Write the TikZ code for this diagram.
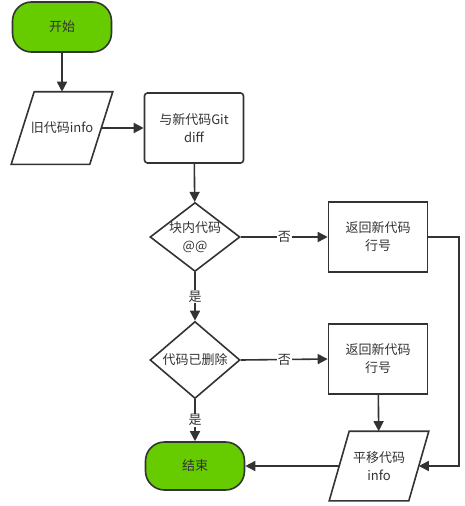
\documentclass[tikz,border=0pt]{standalone}
\usepackage{fontspec}
\setmainfont{Noto Sans CJK SC}
\usetikzlibrary{shapes.geometric,arrows.meta}
\definecolor{ln}{HTML}{333333}
\definecolor{grn}{HTML}{66CC00}
\tikzset{
  base/.style={draw=ln, line width=1.6pt, text=ln, font=\fontsize{13}{18}\selectfont, align=center, inner sep=2pt},
  term/.style={base, fill=grn, rounded corners=19pt, minimum width=99pt, minimum height=50pt},
  proc/.style={base, minimum width=99pt, minimum height=70pt},
  io/.style={base, draw=none, inner sep=0pt},
  ioline/.style={draw=ln, line width=1.6pt, line join=miter},
  dec/.style={base, diamond, minimum width=90pt, minimum height=69pt, inner sep=0pt},
  conn/.style={draw=ln, line width=1.6pt, -{Triangle[length=10pt,width=10pt]}},
  lab/.style={fill=white, text=ln, font=\fontsize{13}{15}\selectfont, inner sep=1pt}
}
\begin{document}
\begin{tikzpicture}[x=1pt,y=-1pt]
\useasboundingbox (0,0) rectangle (464,506);
\node[term] (start) at (62,27) {开始};
\node[io, minimum width=77pt, minimum height=71pt] (p1) at (62,128) {旧代码info};
\draw[ioline] ([xshift=-11.5pt]p1.south west) -- ([xshift=11.5pt]p1.north west) -- ([xshift=11.5pt]p1.north east) -- ([xshift=-11.5pt]p1.south east) -- cycle;
\node[proc, rounded corners=3pt] (b1) at (194,128) {与新代码Git\\diff};
\node[dec, label={[text=ln, font=\fontsize{13}{18}\selectfont, align=center]center:块内代码\\@@}] (d1) at (195,237) {};
\node[proc] (r1) at (378,237) {返回新代码\\行号};
\node[dec] (d2) at (195,360) {代码已删除};
\node[proc] (r2) at (378,359) {返回新代码\\行号};
\node[io, minimum width=78pt, minimum height=68pt] (p2) at (379,466) {平移代码\\info};
\draw[ioline] ([xshift=-10pt]p2.south west) -- ([xshift=10pt]p2.north west) -- ([xshift=10pt]p2.north east) -- ([xshift=-10pt]p2.south east) -- cycle;
\node[term, minimum height=48pt] (end) at (195,466) {结束};
\coordinate (rt) at (459,237);

\draw[conn] (start) -- (p1);
\draw[conn] (p1.east) -- (b1.west);
\draw[conn] (b1) -- (d1);
\draw[conn] (d1.east) -- node[lab, pos=0.5] {否} (r1.west);
\draw[conn] (r1.east) -- (rt) |- (p2.east);
\draw[conn] (d1.south) -- node[lab, pos=0.5] {是} (d2.north);
\draw[conn] (d2.east) -- node[lab, pos=0.5] {否} (r2.west);
\draw[conn] (r2) -- (p2);
\draw[conn] (p2.west) -- (end.east);
\draw[conn] (d2.south) -- node[lab, pos=0.5] {是} (end.north);
\end{tikzpicture}
\end{document}
